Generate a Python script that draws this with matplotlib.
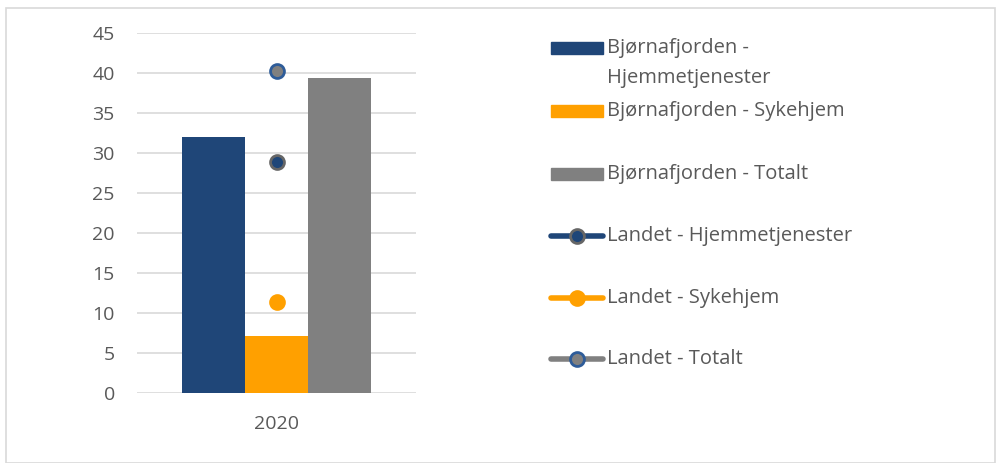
import matplotlib.pyplot as plt
from matplotlib.patches import Rectangle
from matplotlib.lines import Line2D

# ----------------------------
# data
# ----------------------------
categories = ["2020"]
bar_labels = ["Bjørnafjorden - Hjemmetjenester", "Bjørnafjorden - Sykehjem", "Bjørnafjorden - Totalt"]
bar_values = [32.0, 7.1, 39.4]
line_labels = ["Landet - Hjemmetjenester", "Landet - Sykehjem", "Landet - Totalt"]
line_values = [28.9, 11.4, 40.2]
yticks = [0, 5, 10, 15, 20, 25, 30, 35, 40, 45]

blue = "#1F4678"
orange = "#FFA000"
gray = "#808080"
text_col = "#595959"

bar_colors = [blue, orange, gray]
line_colors = [blue, orange, gray]
marker_faces = [blue, orange, gray]
marker_edges = ["#666666", orange, "#2E5C99"]

plt.rcParams["font.family"] = ["Open Sans", "DejaVu Sans"]

W, H = 1000, 463
fig = plt.figure(figsize=(W / 100, H / 100), dpi=100)

# chart border
fig.patches.append(Rectangle((6 / W, 0), 989 / W, 1 - 8 / H, transform=fig.transFigure,
                             fill=False, edgecolor="#D9D9D9", lw=1.2))

ax = fig.add_axes([137 / W, 1 - 393 / H, (416 - 137) / W, (393 - 33) / H])
ax.set_ylim(0, 45)
ax.set_xlim(-0.5, 0.5)

bw = 189 / 279 / 3
for i, (lab, v) in enumerate(zip(bar_labels, bar_values)):
    ax.bar((i - 1) * bw, v, bw, color=bar_colors[i], zorder=2)

for i, v in enumerate(line_values):
    ax.plot([0], [v], "o", ms=10, mfc=marker_faces[i], mec=marker_edges[i], mew=2, zorder=3)

ax.set_yticks(yticks)
ax.set_xticks([0])
ax.set_xticklabels(categories)
ax.yaxis.grid(True, color="#D9D9D9", lw=1.2, zorder=0)
for s in ax.spines.values():
    s.set_visible(False)
ax.tick_params(axis="both", length=0, colors=text_col, labelsize=14)
ax.tick_params(axis="y", pad=16)
ax.tick_params(axis="x", pad=16)

# ----------------------------
# legend (drawn by hand)
# ----------------------------
tf = fig.transFigure
fs = 14.5
rows = [48, 111, 174, 236, 298, 359]
x0, x1, tx = 551, 603, 607
for i, lab in enumerate(bar_labels):
    y = rows[i]
    fig.patches.append(Rectangle((x0 / W, 1 - (y + 6) / H), (x1 - x0) / W, 12 / H,
                                 transform=tf, color=bar_colors[i]))
    if i == 0:
        fig.text(tx / W, 1 - y / H, "Bjørnafjorden -", color=text_col, fontsize=fs,
                 va="center", ha="left")
        fig.text(tx / W, 1 - (y + 30) / H, "Hjemmetjenester", color=text_col, fontsize=fs,
                 va="center", ha="left")
    else:
        fig.text(tx / W, 1 - y / H, lab, color=text_col, fontsize=fs, va="center", ha="left")
for i, lab in enumerate(line_labels):
    y = rows[i + 3]
    yy = 1 - y / H
    fig.lines.append(Line2D([x0 / W, x1 / W], [yy, yy], transform=tf, color=line_colors[i],
                            lw=4, solid_capstyle="round"))
    fig.lines.append(Line2D([(x0 + x1) / 2 / W], [yy], transform=tf, marker="o", ms=10,
                            mfc=marker_faces[i], mec=marker_edges[i], mew=2))
    fig.text(tx / W, yy, lab, color=text_col, fontsize=fs, va="center", ha="left")

plt.savefig("out.png", dpi=100)
plt.close()
